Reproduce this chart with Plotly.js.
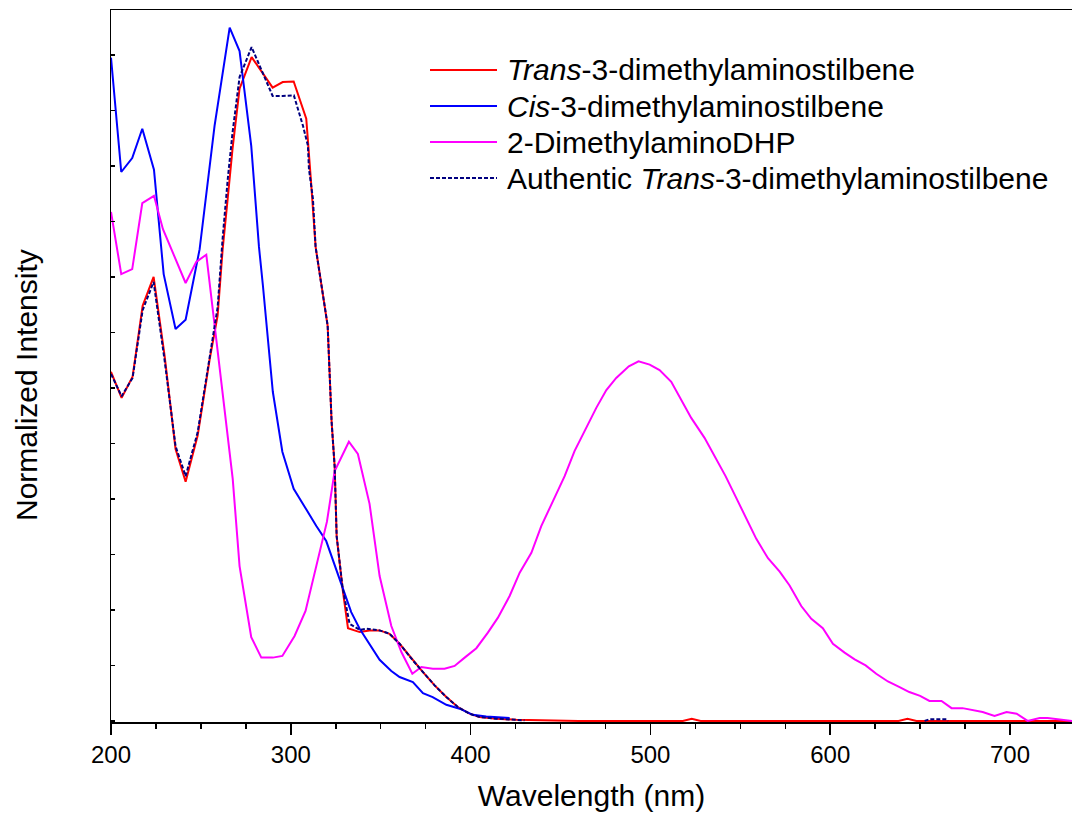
<!DOCTYPE html>
<html>
<head>
<meta charset="utf-8">
<script src="https://cdn.plot.ly/plotly-3.0.1.min.js"></script>
<style>
html,body{margin:0;padding:0;background:#fff;}
#chart{width:1072px;height:817px;}
</style>
</head>
<body>
<div id="chart"></div>
<script>
// ---- Data ----
const seriesNames = [
  '<i>Trans</i>-3-dimethylaminostilbene',
  '<i>Cis</i>-3-dimethylaminostilbene',
  '2-DimethylaminoDHP',
  'Authentic <i>Trans</i>-3-dimethylaminostilbene'
];
const seriesColors = ['#ff0000', '#0000ff', '#ff00ff', '#000080'];

const xTrans = [200,205.9,212,217.6,223.7,229.8,235.9,241.5,248.2,254.9,259.3,262.1,264.9,267.6,271.5,278.2,289.9,295.5,301.6,308.6,311.4,313.8,320.5,322.7,324.4,325.5,328.8,331.8,338.3,343.8,349.4,354.9,360.5,367.9,373.5,380.0,386.5,392.9,399.4,405,414.3,425.4,440,455,460,518,523,528,638,643,648,734.5];
const yTrans = [0.629,0.582,0.620,0.748,0.800,0.658,0.490,0.431,0.514,0.652,0.730,0.850,0.941,1.031,1.139,1.196,1.141,1.151,1.152,1.085,0.965,0.854,0.712,0.539,0.458,0.333,0.238,0.167,0.160,0.163,0.163,0.157,0.139,0.109,0.088,0.064,0.043,0.025,0.013,0.007,0.004,0.002,0.001,0.001,0,0,0.004,0,0,0.004,0,0];

const xCis = [200,205.7,211.8,217.4,223.9,229.3,235.9,241.5,249.3,257.6,266.0,271.5,278.0,282.3,284.5,290.0,295.3,301.6,307.7,314.2,319.7,325.6,333.6,338.3,349.4,355.9,360.5,367.9,373.5,378.9,386.5,393.9,401.3,408.7,421.7];
const yCis = [1.195,0.989,1.014,1.067,0.993,0.805,0.706,0.723,0.850,1.072,1.249,1.207,1.036,0.854,0.784,0.593,0.485,0.418,0.386,0.351,0.324,0.268,0.196,0.166,0.110,0.090,0.079,0.070,0.050,0.043,0.029,0.022,0.011,0.008,0.005];

const xDHP = [200,205.7,211.8,217.4,223.9,228.9,241.5,247.4,253.0,267.7,271.5,278.0,283.6,290.0,295.3,302.1,308.2,314.2,320.1,324.4,332.3,337.3,343.8,349.4,355.9,361.5,367.6,372.6,379.0,385.5,391.1,396.7,403.2,409.6,415.2,421.7,427.3,433.8,439.3,445.8,452.3,457.8,464.3,469.9,475.5,481.0,488.0,493.4,499.6,505.1,511.6,517.2,522.7,530.1,535.7,541.8,547.4,553.3,558.9,565.4,571.9,577.4,583.9,589.5,595.9,601.5,608.0,613.6,619.7,625.6,632.1,638.6,644,650,655.2,661.9,667.5,673.6,684.8,691.4,698.1,703.7,709.8,716.5,720.9,734.5];
const yDHP = [0.917,0.805,0.814,0.933,0.946,0.886,0.789,0.827,0.840,0.436,0.279,0.151,0.114,0.114,0.117,0.153,0.198,0.279,0.359,0.450,0.503,0.481,0.391,0.261,0.171,0.124,0.085,0.097,0.094,0.094,0.099,0.114,0.131,0.159,0.186,0.225,0.267,0.303,0.351,0.396,0.441,0.486,0.528,0.564,0.596,0.618,0.639,0.648,0.642,0.632,0.611,0.578,0.546,0.510,0.477,0.441,0.404,0.366,0.328,0.293,0.269,0.244,0.207,0.184,0.167,0.139,0.123,0.111,0.100,0.085,0.071,0.061,0.052,0.045,0.036,0.036,0.023,0.023,0.016,0.009,0.016,0.013,0.000,0.005,0.005,0.000];

const xAuth = [200,205.9,212,217.6,223.7,229.8,235.9,241.5,248.2,254.9,259.3,262.1,264.9,267.6,271.5,278.2,289.9,295.5,301.7,306.7,309.5,310.1,312.3,313.8,320.5,322.7,324.4,325.5,328.8,332.7,338.3,342.0,349.4,354.9,360.5,367.9,373.5,380.0,386.5,392.9,399.4,405,414.3,425.4,430,null,652.5,655.3,664.6,665.5];
const yAuth = [0.625,0.585,0.618,0.740,0.791,0.650,0.495,0.441,0.520,0.660,0.745,0.870,0.975,1.060,1.160,1.214,1.126,1.126,1.127,1.073,1.037,0.994,0.941,0.854,0.712,0.539,0.458,0.333,0.240,0.175,0.164,0.166,0.163,0.157,0.139,0.109,0.088,0.064,0.043,0.025,0.013,0.007,0.004,0.002,0.001,null,0,0.003,0.003,0];

const xTickVals = [200,300,400,500,600,700];
const xTickText = ['200','300','400','500','600','700'];
const xTitle = 'Wavelength (nm)';
const yTitle = 'Normalized Intensity';

// ---- Plot ----
const FONT = 'Liberation Sans, Arial, Helvetica, sans-serif';
const xs = [xTrans, xCis, xDHP, xAuth];
const ys = [yTrans, yCis, yDHP, yAuth];
const dashes = ['solid','solid','solid','4px,2px'];
const widths = [2, 2, 2, 2];

const traces = xs.map((x, i) => ({
  type: 'scatter', mode: 'lines', x: x, y: ys[i],
  name: seriesNames[i],
  line: {color: seriesColors[i], width: widths[i], dash: dashes[i]},
  connectgaps: false, showlegend: false, hoverinfo: 'skip'
}));

const L = 111, T = 10, W = 961, H = 712;
const px2x = p => (p - L) / W;
const py2y = p => (T + H - p) / H;
const legendRows = [70, 106, 142, 178];
const shapes = [], annotations = [];
seriesNames.forEach((n, i) => {
  shapes.push({type:'line', xref:'paper', yref:'paper',
    x0: px2x(430), x1: px2x(497), y0: py2y(legendRows[i]), y1: py2y(legendRows[i]),
    line:{color: seriesColors[i], width: 2, dash: dashes[i]}});
  annotations.push({xref:'paper', yref:'paper', x: px2x(505), y: py2y(legendRows[i]),
    xanchor:'left', yanchor:'middle', text: n, showarrow:false,
    font:{family: FONT, size: 30, color:'#000'}});
});
// y-axis title (positioned like the reference)
annotations.push({xref:'paper', yref:'paper', x: px2x(26), y: py2y(385),
  xanchor:'center', yanchor:'middle', textangle: -90, text: yTitle, showarrow:false,
  font:{family: FONT, size: 30, color:'#000'}});

const layout = {
  width: 1072, height: 817,
  margin: {l: L, r: 0, t: T, b: 817 - T - H, pad: 0},
  paper_bgcolor: '#fff', plot_bgcolor: '#fff',
  font: {family: FONT, color: '#000'},
  showlegend: false,
  xaxis: {
    range: [200, 200 + W / 1.798],
    tickvals: xTickVals, ticktext: xTickText,
    ticks: 'outside', ticklen: 11, tickwidth: 1.5, tickcolor: '#000',
    minor: {dtick: 25, tick0: 200, ticks: 'outside', ticklen: 5, tickwidth: 1.5, tickcolor: '#000', showgrid: false},
    showline: true, linecolor: '#000', linewidth: 1.5, mirror: true,
    showgrid: false, zeroline: false,
    tickfont: {family: FONT, size: 24, color: '#000'},
    title: {text: xTitle, font: {family: FONT, size: 30, color: '#000'}, standoff: 17}
  },
  yaxis: {
    range: [-0.002, -0.002 + H / 555],
    tick0: 0, dtick: 0.1,
    ticks: 'inside', ticklen: 4, tickwidth: 1.5, tickcolor: '#000',
    showticklabels: false,
    showline: true, linecolor: '#000', linewidth: 1.5, mirror: false,
    showgrid: false, zeroline: false
  },
  shapes: shapes, annotations: annotations
};

Plotly.newPlot('chart', traces, layout, {staticPlot: true, displayModeBar: false});
</script>
</body>
</html>
